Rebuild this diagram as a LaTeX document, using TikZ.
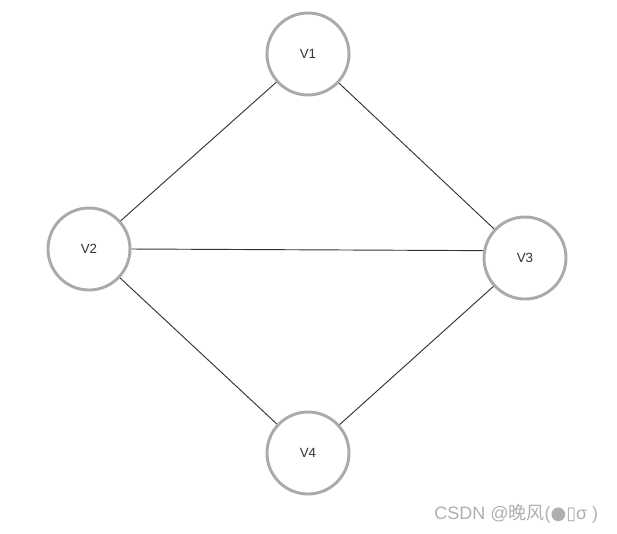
\documentclass[tikz,border=0pt]{standalone}
\usepackage{fontspec}
\setmainfont{Liberation Sans}
\newfontfamily\cjk{Noto Sans CJK SC}
\newfontfamily\dejavu{DejaVu Sans}
\definecolor{ringgray}{RGB}{170,170,170}
\definecolor{textgray}{RGB}{51,51,51}
\definecolor{wmgray}{RGB}{175,175,175}
\begin{document}
\begin{tikzpicture}[x=0.75pt,y=-0.75pt,
  vertex/.style={circle,draw=ringgray,line width=2.2pt,fill=white,minimum size=61.5pt,inner sep=0pt,font=\fontsize{10}{12}\selectfont,text=textgray},
  edge/.style={draw=black!80,line width=0.7pt}]
\useasboundingbox (0,0) rectangle (617,533);
\node[vertex] (v1) at (308,54) {V1};
\node[vertex] (v2) at (89,249) {V2};
\node[vertex] (v3) at (525,258) {V3};
\node[vertex] (v4) at (308,453) {V4};
\draw[edge] (v1) -- (v2);
\draw[edge] (v1) -- (v3);
\draw[edge] (v2.east) -- (v3.170);
\draw[edge] (v2) -- (v4);
\draw[edge] (v3) -- (v4);
\node[anchor=west,text=wmgray,inner sep=0pt,font=\fontsize{13.5}{15}\selectfont] (wm) at (434,514) {CSDN @{\cjk 晚风}({\dejavu ●}{\dejavu ▯}σ )};
\end{tikzpicture}
\end{document}
